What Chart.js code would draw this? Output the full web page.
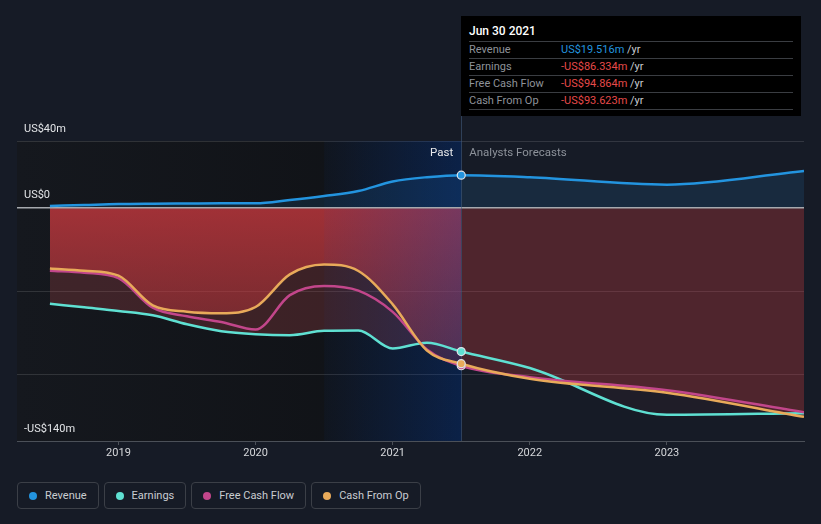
<!DOCTYPE html>
<html><head><meta charset="utf-8">
<script src="https://cdn.jsdelivr.net/npm/chart.js@4"></script>
<style>
html,body{margin:0;padding:0;background:#161b26;}
body{width:821px;height:524px;position:relative;overflow:hidden;font-family:Roboto,"Noto Sans",sans-serif;}
#c{position:absolute;left:0;top:0;}
#tip{position:absolute;left:461px;top:16px;width:340px;height:100px;background:#000;}
#tip .t{position:absolute;left:8px;top:7px;color:#fff;font-size:12px;font-weight:500;line-height:16px;}
#tip .r{position:absolute;left:8px;width:324px;height:16px;border-top:1px solid #3a3d42;font-size:11px;line-height:15px;color:#8e9299;white-space:nowrap;}
#tip .r.last{border-bottom:1px solid #3a3d42;}
#tip .r .v{position:absolute;left:92px;top:0;color:#c9ccd1;}
#tip .blue{color:#2394df;}
#tip .red{color:#e64a4a;}
.legend{position:absolute;left:17px;top:482px;display:flex;gap:5px;}
.item{box-sizing:border-box;border:1px solid #3b3f47;border-radius:4px;height:27px;padding:0 11px;display:flex;align-items:center;color:#c9ccd1;font-size:11px;}
.dot{width:8px;height:8px;border-radius:50%;margin-right:8px;}
</style></head>
<body>
<canvas id="c" width="821" height="470"></canvas>
<div id="tip">
  <div class="t">Jun 30 2021</div>
  <div class="r" style="top:25px">Revenue<span class="v"><span class="blue">US$19.516m</span> /yr</span></div>
  <div class="r" style="top:42px">Earnings<span class="v"><span class="red">-US$86.334m</span> /yr</span></div>
  <div class="r" style="top:59px">Free Cash Flow<span class="v"><span class="red">-US$94.864m</span> /yr</span></div>
  <div class="r last" style="top:76px">Cash From Op<span class="v"><span class="red">-US$93.623m</span> /yr</span></div>
</div>
<div class="legend">
  <div class="item"><span class="dot" style="background:#2394df"></span>Revenue</div>
  <div class="item"><span class="dot" style="background:#5fe0d2"></span>Earnings</div>
  <div class="item"><span class="dot" style="background:#c2468b"></span>Free Cash Flow</div>
  <div class="item"><span class="dot" style="background:#e8aa5a"></span>Cash From Op</div>
</div>
<script>
// ---- data (US$ millions) ----
const dates = [2018.5, 2018.75, 2019.0, 2019.25, 2019.5, 2019.75, 2020.0, 2020.25, 2020.5, 2020.75, 2021.0, 2021.25, 2021.5, 2022.0, 2023.0, 2024.0];
const revenue = [1.0, 1.6, 2.2, 2.4, 2.5, 2.6, 2.6, 4.6, 7.0, 10.0, 15.7, 18.3, 19.516, 18.3, 13.8, 22.0];
const earnings = [-57.6, -59.8, -62.0, -64.6, -70.0, -74.1, -75.9, -76.5, -73.9, -73.7, -84.5, -81.0, -86.334, -96.2, -124.3, -123.3];
const freeCashFlow = [-37.8, -39.0, -42.3, -60.0, -65.2, -68.6, -73.1, -52.5, -47.0, -49.8, -62.5, -85.1, -94.864, -101.7, -109.5, -122.8];
const cashFromOp = [-36.5, -37.8, -40.8, -58.6, -62.4, -63.3, -59.6, -40.0, -34.1, -38.0, -58.0, -85.7, -93.623, -102.6, -111.0, -125.5];
const yTickValues = [40, 0, -50, -100, -140];
const yTickLabels = {"40": "US$40m", "0": "US$0", "-140": "-US$140m"};
const xTickYears = [2019, 2020, 2021, 2022, 2023];
const presentIndex = 12;
const highlightStart = 2020.5;
const presentDate = 2021.5;

function pts(arr) { return arr.map((v, i) => ({x: dates[i], y: v})); }
const isForecast = ctx => ctx.p0DataIndex >= presentIndex;

let gradCache = null, gradKey = '';
function cfoPastGradient(chart) {
  const {ctx, chartArea, scales} = chart;
  if (!chartArea || !scales.y) return 'rgba(222,58,64,0.5)';
  const y0 = scales.y.getPixelForValue(0);
  const key = y0 + '_' + chartArea.bottom;
  if (gradCache && gradKey === key) return gradCache;
  const g = ctx.createLinearGradient(0, y0, 0, chartArea.bottom);
  g.addColorStop(0, 'rgba(222,58,64,0.62)');
  g.addColorStop(0.45, 'rgba(222,58,64,0.38)');
  g.addColorStop(1, 'rgba(222,58,64,0.12)');
  gradCache = g; gradKey = key;
  return g;
}

function series(label, data, color, fillPast, fillFuture) {
  return {
    label, data: pts(data),
    borderColor: color, borderWidth: 2.5,
    cubicInterpolationMode: 'monotone',
    pointRadius: ctx => ctx.dataIndex === presentIndex ? 4 : 0,
    pointHoverRadius: 0,
    pointBackgroundColor: color,
    pointBorderColor: '#dfe3e8',
    pointBorderWidth: 1.2,
    fill: fillPast ? 'origin' : false,
    backgroundColor: fillPast || 'rgba(0,0,0,0)',
    segment: fillPast ? { backgroundColor: ctx => isForecast(ctx) ? fillFuture : (typeof fillPast === 'function' ? fillPast(ctx) : fillPast) } : undefined
  };
}

const datasets = [
  series('Revenue', revenue, '#2394df', 'rgba(35,148,223,0.13)', 'rgba(35,148,223,0.13)'),
  series('Cash From Op', cashFromOp, '#e8aa5a', ctx => cfoPastGradient(ctx.chart), 'rgba(222,58,64,0.25)'),
  series('Free Cash Flow', freeCashFlow, '#c2468b', null, null),
  series('Earnings', earnings, '#5fe0d2', 'rgba(190,75,80,0.25)', 'rgba(190,75,80,0.06)')
];

const bgPlugin = {
  id: 'bgPlugin',
  beforeDraw(chart) {
    const {ctx, chartArea: a, scales: {x}} = chart;
    const xp = x.getPixelForValue(presentDate);
    ctx.save();
    const g = ctx.createLinearGradient(a.left, 0, xp, 0);
    g.addColorStop(0, '#15181e');
    g.addColorStop(1, '#0f1115');
    ctx.fillStyle = g;
    ctx.fillRect(a.left, a.top, xp - a.left, a.bottom - a.top);
    ctx.restore();
  },
  beforeDatasetsDraw(chart) {
    const {ctx, chartArea: a, scales: {x, y}} = chart;
    const xh = x.getPixelForValue(highlightStart);
    const xp = x.getPixelForValue(presentDate);
    ctx.save();
    const g = ctx.createLinearGradient(xh, 0, xp, 0);
    g.addColorStop(0, 'rgba(0,80,215,0.04)');
    g.addColorStop(1, 'rgba(0,80,215,0.26)');
    ctx.fillStyle = g;
    ctx.fillRect(xh, a.top, xp - xh, a.bottom - a.top);
    const y0 = y.getPixelForValue(0);
    ctx.strokeStyle = '#a6a9ae';
    ctx.lineWidth = 1.5;
    ctx.beginPath(); ctx.moveTo(a.left, y0); ctx.lineTo(a.right, y0); ctx.stroke();
    ctx.strokeStyle = 'rgba(70,95,130,0.55)';
    ctx.lineWidth = 1;
    ctx.beginPath(); ctx.moveTo(Math.round(xp) + 0.5, 116); ctx.lineTo(Math.round(xp) + 0.5, a.bottom); ctx.stroke();
    ctx.restore();
  },
  afterDatasetsDraw(chart) {
    const {ctx, chartArea: a, scales: {x}} = chart;
    const xp = x.getPixelForValue(presentDate);
    ctx.save();
    ctx.font = '11.5px Roboto';
    ctx.textBaseline = 'middle';
    ctx.textAlign = 'right';
    ctx.fillStyle = '#e8e9eb';
    ctx.fillText('Past', xp - 8, a.top + 12);
    ctx.textAlign = 'left';
    ctx.fillStyle = '#8d929a';
    ctx.fillText('Analysts Forecasts', xp + 8, a.top + 12);
    ctx.restore();
  }
};

Chart.defaults.font.family = 'Roboto';
new Chart(document.getElementById('c'), {
  type: 'line',
  data: { datasets },
  options: {
    responsive: false,
    devicePixelRatio: 1,
    animation: false,
    events: [],
    layout: { padding: { left: 17, right: 17, top: 141, bottom: 0 } },
    plugins: {
      legend: { display: false },
      tooltip: { enabled: false },
      filler: { propagate: false, drawTime: 'beforeDatasetsDraw' }
    },
    scales: {
      x: {
        type: 'linear', min: 2018.26, max: 2024.0,
        afterBuildTicks: s => { s.ticks = xTickYears.map(v => ({value: v})); },
        afterFit: s => { s.height = 29; },
        ticks: { includeBounds: false, autoSkip: false, maxRotation: 0, color: '#d6d8db', font: { size: 11 }, padding: 2, callback: v => String(v) },
        grid: { drawOnChartArea: false, drawTicks: true, tickLength: 4, color: '#4b5058' },
        border: { display: true, color: '#4b5058', width: 1 }
      },
      y: {
        type: 'linear', min: -140, max: 40,
        afterBuildTicks: s => { s.ticks = yTickValues.map(v => ({value: v})); },
        afterFit: s => { s.width = 0; },
        ticks: { mirror: true, padding: 7, labelOffset: -12, color: '#e2e4e7', font: { size: 11 }, autoSkip: false,
                 callback: v => yTickLabels[String(v)] || '' },
        grid: { drawTicks: false, color: ctx => (ctx.tick && ctx.tick.value === 0) ? 'rgba(0,0,0,0)' : 'rgba(255,255,255,0.12)' },
        border: { display: false }
      }
    }
  },
  plugins: [bgPlugin]
});
</script>
</body></html>
